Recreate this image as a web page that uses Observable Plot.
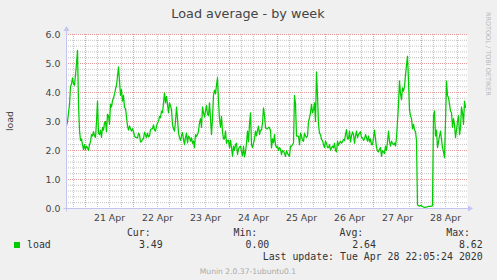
<!DOCTYPE html>
<html><head><meta charset="utf-8">
<script src="https://cdn.jsdelivr.net/npm/d3@7"></script>
<script src="https://cdn.jsdelivr.net/npm/@observablehq/plot@0.6"></script>
<style>
html,body{margin:0;padding:0;background:#f0f0f0;}
#chart{width:497px;height:280px;overflow:hidden;}
svg{display:block;}
</style></head><body><div id="chart"></div>
<script>
const title = "Load average - by week";
const yLabel = "load";
const seriesName = "load";
const seriesColor = "#00cc00";
const startTime = "2020-04-20T14:30:00Z";
const stepMinutes = 30;
const xDomain = ["2020-04-20T14:30:00Z", "2020-04-28T23:00:00Z"];
const yTicks = [0, 1, 2, 3, 4, 5, 6];
const dayNoons = ["2020-04-21T12:00:00Z","2020-04-22T12:00:00Z","2020-04-23T12:00:00Z","2020-04-24T12:00:00Z","2020-04-25T12:00:00Z","2020-04-26T12:00:00Z","2020-04-27T12:00:00Z","2020-04-28T12:00:00Z"];
const dayLabels = ["21 Apr","22 Apr","23 Apr","24 Apr","25 Apr","26 Apr","27 Apr","28 Apr"];
const legendHeaders = ["Cur:", "Min:", "Avg:", "Max:"];
const legendValues = ["3.49", "0.00", "2.64", "8.62"];
const lastUpdate = "Last update: Tue Apr 28 22:05:24 2020";
const footer = "Munin 2.0.37-1ubuntu0.1";
const watermark = "RRDTOOL / TOBI OETIKER";
const loadValues = [
2.85,3.0,3.3,3.59,4.2,4.3,4.5,4.3,4.25,4.6,
5.0,5.45,3.6,2.7,2.35,2.4,2.2,2.03,2.2,2.03,
2.15,2.1,2.0,2.2,2.3,2.55,2.5,2.65,2.5,2.45,
3.0,3.7,2.6,2.55,2.7,2.45,2.8,2.7,2.95,3.0,
2.65,3.25,3.2,2.9,3.6,3.5,3.72,3.8,3.95,4.12,
4.25,4.55,4.88,4.4,3.9,4.1,3.7,3.9,3.48,3.45,
3.15,2.85,2.7,2.85,2.75,2.67,2.75,2.65,2.5,2.45,
2.45,2.43,2.6,2.55,2.3,2.3,2.4,2.4,2.63,2.55,
2.45,2.6,2.47,2.5,2.72,2.75,2.75,2.88,2.7,2.67,
2.84,2.95,3.0,3.18,3.13,3.36,3.3,3.64,3.99,3.64,
3.87,3.59,
3.3,3.64,3.55,3.4,2.9,2.75,2.67,3.0,3.5,3.1,
2.6,2.44,2.35,2.5,2.62,2.38,2.2,2.45,2.6,2.26,
2.5,2.45,2.32,2.44,2.25,2.32,2.1,2.55,2.48,2.55,
2.67,2.95,3.1,2.8,3.5,3.3,3.15,3.36,3.55,3.25,
3.2,3.64,3.1,2.55,3.1,3.9,4.08,3.95,4.25,4.51,
3.7,3.1,2.8,3.18,2.65,2.4,2.4,2.67,2.25,2.35,
2.35,2.09,2.35,2.1,1.8,2.15,2.0,2.2,2.25,1.86,
2.05,2.12,2.15,1.95,1.82,2.15,1.78,1.95,2.25,2.67,
2.3,2.9,3.3,2.2,2.1,2.25,2.4,2.67,2.5,2.7,
2.84,2.55,2.7,2.7,2.95,3.47,3.2,2.8,2.75,
2.75,2.8,2.78,2.7,2.09,2.4,2.26,2.55,2.2,2.1,
2.15,2.0,2.1,2.05,1.86,2.0,1.98,1.9,1.8,2.0,
1.9,1.85,1.8,2.15,2.15,2.2,2.26,3.9,3.6,2.5,
2.5,2.5,2.2,2.6,2.5,2.35,2.32,2.6,2.5,2.45,
2.5,3.0,3.13,3.3,3.59,3.3,3.4,3.64,3.0,4.71,
3.9,2.9,2.6,2.55,2.38,2.35,2.2,2.1,2.32,2.25,
2.1,2.1,2.2,2.0,2.1,2.15,2.09,2.25,2.0,1.95,
2.32,2.18,2.25,2.32,2.25,2.3,2.38,2.34,2.55,2.72,
2.4,2.4,2.67,2.3,2.5,2.64,2.55,2.25,2.5,2.67,
2.44,2.55,2.6,2.65,2.44,2.44,2.35,2.4,2.55,2.44,
2.32,2.5,2.3,2.4,2.2,2.2,2.44,2.7,2.4,2.1,
1.98,1.95,2.05,2.1,1.8,2.0,1.95,1.9,2.15,2.0,
2.3,2.67,2.3,2.15,2.32,2.25,2.2,2.26,2.15,2.44,
3.01,3.59,4.4,3.95,3.75,4.16,4.05,4.2,4.6,4.95,
5.25,4.4,3.4,3.2,3.1,2.75,2.9,2.7,2.65,2.35,
0.12,0.1,0.08,0.1,0.1,0.07,0.05,0.04,0.05,0.05,
0.06,0.07,0.07,0.07,0.08,0.1,3.2,3.36,2.5,2.7,
2.1,2.3,2.5,2.67,2.38,2.1,1.95,1.75,3.0,4.39,
3.9,3.82,3.6,3.36,3.3,2.8,3.1,2.9,2.44,2.7,
3.0,3.2,2.55,2.78,3.5,3.3,2.9,3.7,3.49
];

const t0 = new Date(startTime).getTime();
const data = loadValues.map((v, i) => ({t: new Date(t0 + i * stepMinutes * 60000), v}));
const d0 = new Date(xDomain[0]), d1 = new Date(xDomain[1]);
const majorX = d3.utcDay.range(d0, d1);
const minorX = d3.utcHour.every(6).range(d0, d1).filter(d => d.getUTCHours() !== 0);
const minorY = d3.range(1, 30).map(i => i / 5).filter(v => Math.abs(v - Math.round(v)) > 1e-6);

const axisColor = "#c4c4f0";
const minorColor = "#c4c4c4";
const majorColor = "#e49a9a";

const chart = Plot.plot({
  width: 497, height: 280,
  marginLeft: 66, marginRight: 30, marginTop: 34, marginBottom: 72,
  style: {background: "transparent", fontFamily: "DejaVu Sans", fontSize: "9.4px", color: "#444"},
  x: {type: "utc", domain: [d0, d1], axis: null},
  y: {domain: [0, 6], axis: null},
  marks: [
    Plot.frame({fill: "white", stroke: null}),
    Plot.ruleX(minorX, {x: d => d, stroke: minorColor, strokeWidth: 1, strokeDasharray: "1,1"}),
    Plot.ruleY(minorY, {y: d => d, stroke: minorColor, strokeWidth: 1, strokeDasharray: "1,1"}),
    Plot.ruleX(majorX, {x: d => d, stroke: majorColor, strokeWidth: 1, strokeDasharray: "1,1"}),
    Plot.ruleY(yTicks.filter(d => d > 0), {y: d => d, stroke: majorColor, strokeWidth: 1, strokeDasharray: "1,1"}),
    Plot.line(data, {x: "t", y: "v", stroke: seriesColor, strokeWidth: 1.25}),
    Plot.text(yTicks, {y: d => d, frameAnchor: "left", dx: -6, textAnchor: "end", text: d => d.toFixed(1), fill: "#444"}),
    Plot.text(dayNoons, {x: d => new Date(d), frameAnchor: "bottom", dy: 12, text: (d, i) => dayLabels[i], fill: "#444"})
  ]
});
document.getElementById("chart").appendChild(chart);

const svg = d3.select(chart);
const xr = chart.scale("x").range, yr = chart.scale("y").range;
const ax = xr[0] + 0.5, ay = yr[0] + 0.5;
svg.append("line").attr("x1", ax).attr("x2", ax).attr("y1", ay + 3).attr("y2", yr[1] - 5).attr("stroke", axisColor);
svg.append("line").attr("x1", ax - 3).attr("x2", xr[1] + 2).attr("y1", ay).attr("y2", ay).attr("stroke", axisColor);
svg.append("path").attr("d", `M${ax - 3},${yr[1] - 3}L${ax},${yr[1] - 8}L${ax + 3},${yr[1] - 3}Z`).attr("fill", axisColor);
svg.append("path").attr("d", `M${xr[1] + 1},${ay - 3}L${xr[1] + 6},${ay}L${xr[1] + 1},${ay + 3}Z`).attr("fill", axisColor);

const addText = (x, y, txt, opts = {}) => svg.append("text")
  .attr("x", x).attr("y", y)
  .attr("text-anchor", opts.anchor || "start")
  .attr("font-family", opts.family || "DejaVu Sans")
  .attr("font-size", opts.size || "9.4px")
  .attr("fill", opts.fill || "#333")
  .attr("transform", opts.transform || null)
  .text(txt);

addText(248, 18, title, {anchor: "middle", size: "12.8px", fill: "#444"});
addText(0, 0, yLabel, {anchor: "middle", fill: "#444", transform: `translate(13,${(yr[0] + yr[1]) / 2}) rotate(-90)`});
addText(0, 0, watermark, {anchor: "start", size: "6.5px", fill: "#b8b8b8", transform: "translate(485.5,12) rotate(90)"});

const mono = "DejaVu Sans Mono";
svg.append("rect").attr("x", 14).attr("y", 242).attr("width", 6).attr("height", 6).attr("fill", seriesColor);
addText(27, 247.5, seriesName, {family: mono, size: "9.9px"});
const colRight = [150.7, 257.3, 363.3, 470];
const valRight = [162.7, 269.3, 376, 482.7];
legendHeaders.forEach((h, i) => {
  addText(colRight[i], 235.5, h, {anchor: "end", family: mono, size: "9.9px"});
  addText(valRight[i], 247.5, legendValues[i], {anchor: "end", family: mono, size: "9.9px"});
});
addText(482.7, 260, lastUpdate, {anchor: "end", family: mono, size: "9.9px"});
addText(248, 273.5, footer, {anchor: "middle", size: "7.6px", fill: "#aaa"});
</script></body></html>
